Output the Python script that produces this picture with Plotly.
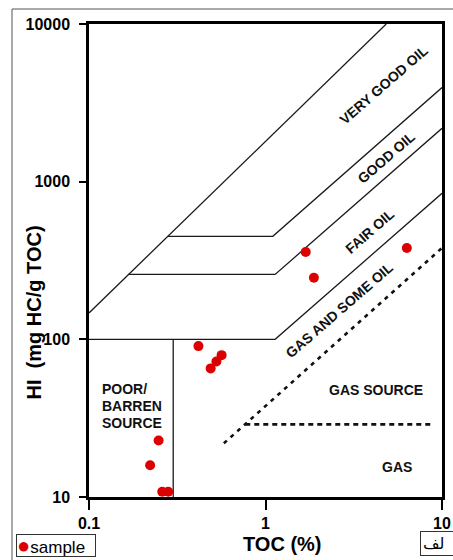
import plotly.graph_objects as go

# ---------------- data ----------------
# sample points
sample_toc = [0.248, 0.222, 0.260, 0.281, 0.417, 0.489, 0.527, 0.564, 1.69, 1.88, 6.32]
sample_hi = [22.8, 15.9, 10.8, 10.8, 90.6, 65.4, 72.4, 79.4, 358, 246, 380]

# field boundaries of the HI vs TOC diagram
upper_toc = [0.1, 4.83]
upper_hi = [147, 10000]
very_good_toc = [0.279, 1.10, 10]
very_good_hi = [450, 450, 3950]
good_toc = [0.167, 1.134, 10]
good_hi = [258, 258, 2180]
fair_toc = [0.1, 1.134, 10]
fair_hi = [100, 100, 843]
poor_toc = [0.30, 0.30]
poor_hi = [100, 10]
gas_source_toc = [0.581, 10]
gas_source_hi = [21.9, 380]
gas_toc = [0.768, 8.9]
gas_hi = [28.9, 28.9]

x_ticks = [0.1, 1, 10]
x_ticktext = ["0.1", "1", "10"]
y_ticks = [10, 100, 1000, 10000]
y_ticktext = ["10", "100", "1000", "10000"]

FONT = "Liberation Sans, Arial, sans-serif"

fig = go.Figure()

solid = dict(color="#1a1a1a", width=1.3)
for xs, ys in [(upper_toc, upper_hi), (very_good_toc, very_good_hi),
               (good_toc, good_hi), (fair_toc, fair_hi), (poor_toc, poor_hi)]:
    fig.add_trace(go.Scatter(x=xs, y=ys, mode="lines", line=solid,
                             showlegend=False, hoverinfo="skip"))

fig.add_trace(go.Scatter(x=gas_source_toc, y=gas_source_hi, mode="lines",
                         line=dict(color="#111", width=2.6, dash="4px,5px"),
                         showlegend=False, hoverinfo="skip"))
fig.add_trace(go.Scatter(x=gas_toc, y=gas_hi, mode="lines",
                         line=dict(color="#111", width=2.6, dash="5px,4px"),
                         showlegend=False, hoverinfo="skip"))

fig.add_trace(go.Scatter(x=sample_toc, y=sample_hi, mode="markers", name="sample",
                         marker=dict(color="#dd0000", size=10, line=dict(width=0)),
                         showlegend=False))

axis_common = dict(type="log", showgrid=False, zeroline=False, showline=True,
                   automargin=False,
                   linecolor="black", linewidth=2.5, mirror=True, ticks="outside",
                   tickcolor="black", tickwidth=1.5,
                   tickfont=dict(family=FONT, size=16, color="black", weight="bold"))

fig.update_xaxes(range=[-1, 1], tickvals=x_ticks, ticktext=x_ticktext, ticklen=10,
                 **axis_common)
fig.update_yaxes(range=[1, 4], tickvals=y_ticks, ticktext=y_ticktext, ticklen=7,
                 ticklabelstandoff=6, **axis_common)

W, H = 453, 560
L, R, T, B = 89, 11, 24, 63
pw, ph = W - L - R, H - T - B


def px(x):
    return (x - L) / pw


def py(y):
    return (H - B - y) / ph


anns = []
lab_font = dict(family=FONT, size=14, color="#111", weight="bold")
for text, cx, cy in [("VERY GOOD OIL", 383.5, 85), ("GOOD OIL", 385.5, 157.5),
                     ("FAIR OIL", 370, 231), ("GAS AND SOME OIL", 339.5, 310)]:
    anns.append(dict(text=text, x=px(cx), y=py(cy), xref="paper", yref="paper",
                     showarrow=False, textangle=-41, font=lab_font,
                     xanchor="center", yanchor="middle"))
for text, cx, cy in [("GAS SOURCE", 376, 390), ("GAS", 396.7, 466.7)]:
    anns.append(dict(text=text, x=px(cx), y=py(cy), xref="paper", yref="paper",
                     showarrow=False, font=lab_font, xanchor="center", yanchor="middle"))
for text, cy in [("POOR/", 389.3), ("BARREN", 406), ("SOURCE", 422.5)]:
    anns.append(dict(text=text, x=px(100), y=py(cy), xref="paper", yref="paper",
                     showarrow=False, font=lab_font, xanchor="left", yanchor="middle"))

# axis titles
anns.append(dict(text="HI  (mg HC/g TOC)", x=px(33.5), y=py(313), xref="paper", yref="paper",
                 showarrow=False, textangle=-90,
                 font=dict(family=FONT, size=20, color="black", weight="bold"),
                 xanchor="center", yanchor="middle"))
anns.append(dict(text="TOC (%)", x=px(282.5), y=py(544), xref="paper", yref="paper",
                 showarrow=False,
                 font=dict(family=FONT, size=20, color="black", weight="bold"),
                 xanchor="center", yanchor="middle"))

# legend box
anns.append(dict(text="<span style='color:#dd0000;font-size:22px'>●</span>sample",
                 x=px(16), y=py(534), xref="paper", yref="paper", showarrow=False,
                 xanchor="left", yanchor="top", bordercolor="#333", borderwidth=1,
                 borderpad=0, bgcolor="white", height=21, width=78, align="left",
                 valign="middle",
                 font=dict(family=FONT, size=17, color="black")))
# caption fragment at the bottom right
anns.append(dict(text="لف", x=px(420), y=py(531), xref="paper", yref="paper",
                 showarrow=False, xanchor="left", yanchor="top", width=50, align="left",
                 bordercolor="#333", borderwidth=1, borderpad=2,
                 font=dict(family="DejaVu Sans, Noto Sans", size=16, color="black")))

fig.update_layout(
    width=W, height=H, autosize=False,
    margin=dict(l=L, r=R, t=T, b=B),
    plot_bgcolor="white", paper_bgcolor="white",
    annotations=anns,
    showlegend=False,
    shapes=[dict(type="rect", xref="paper", yref="paper",
                 x0=px(12), x1=px(470), y0=py(580), y1=py(9),
                 line=dict(color="#555", width=1), layer="below")],
)

post = (
    "document.body.style.margin='0px';"
    "document.body.style.overflow='hidden';"
)

fig.write_html("out.html",
               config={"responsive": False, "displayModeBar": False},
               post_script=post)
